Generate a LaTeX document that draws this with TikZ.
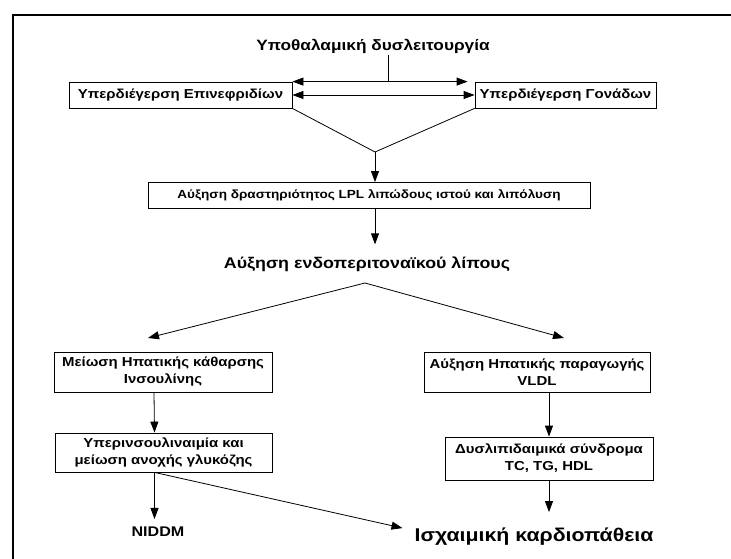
\documentclass[tikz,border=0pt]{standalone}
\usepackage{fontspec}
\setmainfont{Liberation Sans}[FakeStretch=1.15]
\usetikzlibrary{arrows.meta,positioning}

\begin{document}
\begin{tikzpicture}[x=1pt,y=-1pt,>={Triangle[length=11pt,width=8pt]},
  box/.style={draw,line width=0.8pt,inner sep=2pt,align=center,
    font=\bfseries\fontsize{13}{17}\selectfont},
  head/.style={inner sep=2pt,font=\bfseries\fontsize{15.5}{18}\selectfont}]
  \useasboundingbox (0,0) rectangle (731,559);
  \def\off{9pt}

  % frame
  \draw[line width=2.6pt] (13,559) -- (13,15) -- (731,15);

  % hypothalamus and the glands
  \node[head,font=\bfseries\fontsize{15}{18}\selectfont] (hypo) at (373,46) {Υποθαλαμική δυσλειτουργία};
  \node[box,minimum width=223pt,minimum height=26pt] (adr) at (180.5,95) {Υπερδιέγερση Επινεφριδίων};
  \node[box,minimum width=181pt,minimum height=26pt] (gon) at (565.5,95) {Υπερδιέγερση Γονάδων};
  \coordinate (mid) at (388,82);
  \coordinate (apex) at (375,152);

  \draw[line width=0.8pt] (hypo.south -| mid) -- (mid);
  \draw[line width=0.8pt,<->] (adr.north east) -- ([xshift=-7pt]gon.north west);
  \draw[line width=0.8pt,<->] (adr.east) -- (gon.west);
  \draw[line width=0.8pt] (adr.south east) -- (apex) -- (gon.south west);

  % lipolysis
  \node[box,minimum width=442pt,minimum height=26pt,font=\bfseries\fontsize{11.8}{14}\selectfont] (lpl) at (369,195.5) {Αύξηση δραστηριότητος LPL λιπώδους ιστού και λιπόλυση};
  \node[head] (fat) at (367,264) {Αύξηση ενδοπεριτοναϊκού λίπους};
  \draw[line width=0.8pt,->] (apex) -- (apex |- lpl.north);
  \draw[line width=0.8pt,->] (apex |- lpl.south) -- ([yshift=10pt]apex |- fat.north);

  % liver
  \node[box,minimum width=218pt,minimum height=40pt] (hep) at (163,372) {Μείωση Ηπατικής κάθαρσης\\Ινσουλίνης};
  \node[box,minimum width=226pt,minimum height=40pt] (vldl) at (537,372) {Αύξηση Ηπατικής παραγωγής\\VLDL};
  \coordinate (split) at (365,283);
  \coordinate (tipL) at (148,338);
  \coordinate (tipR) at (564,338);
  \draw[line width=0.8pt,->] (split) -- (tipL);
  \draw[line width=0.8pt,->] (split) -- (tipR);

  \node[box,minimum width=217pt,minimum height=39pt] (hyp) at (163.5,452.5) {Υπερινσουλιναιμία και\\μείωση ανοχής γλυκόζης};
  \node[box,minimum width=208pt,minimum height=43pt] (dys) at (549,458.5) {Δυσλιπιδαιμικά σύνδρομα\\TC, TG, HDL};
  \draw[line width=0.8pt,->] ([xshift=-\off]hep.south) -- ([xshift=-\off]hyp.north);
  \draw[line width=0.8pt,->] (vldl.south -| dys.north) -- (dys.north);

  % outcomes
  \node[head,font=\bfseries\fontsize{14}{16}\selectfont] (niddm) at (158,532) {NIDDM};
  \node[head,font=\bfseries\fontsize{18.5}{21}\selectfont] (isch) at (534,537) {Ισχαιμική καρδιοπάθεια};
  \coordinate (hs) at ([xshift=-\off]hyp.south);
  \draw[line width=0.8pt,->] (hs) -- ([yshift=6pt]hs |- niddm.north);
  \draw[line width=0.8pt,->] (hs) -- ([xshift=-10pt,yshift=-2pt]isch.north west);
  \draw[line width=0.8pt,->] (dys.south) -- ([yshift=14pt]isch.north -| dys.south);
\end{tikzpicture}
\end{document}
